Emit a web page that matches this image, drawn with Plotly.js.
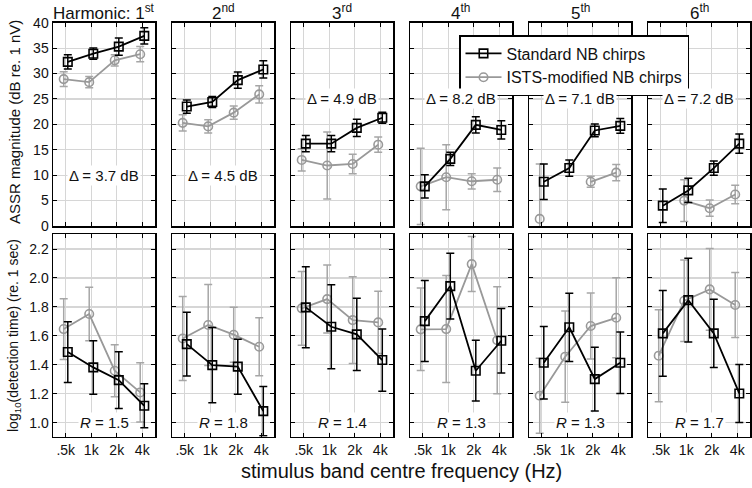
<!DOCTYPE html>
<html><head><meta charset="utf-8">
<script src="https://cdn.plot.ly/plotly-3.0.1.min.js"></script>
<style>html,body{margin:0;padding:0;background:#fff}#chart{width:752px;height:488px}</style>
</head><body><div id="chart"></div>
<script>
const cats = ['.5k','1k','2k','4k'];
const harmonicTitles = ['Harmonic: 1<sup>st</sup>','2<sup>nd</sup>','3<sup>rd</sup>','4<sup>th</sup>','5<sup>th</sup>','6<sup>th</sup>'];
const magStd = [[32.3,33.9,35.3,37.4],[23.5,24.4,28.7,30.8],[16.2,16.2,19.3,21.3],[7.8,13.2,19.9,18.9],[8.7,11.4,18.8,19.7],[4.0,7.0,11.4,16.2]];
const magStdErr = [[1.4,1.1,1.7,1.6],[1.3,1.1,1.6,1.7],[1.6,1.6,1.7,1.1],[2.3,1.3,1.6,1.8],[3.5,1.6,1.25,1.45],[3.3,2.4,1.4,1.9]];
const magIsts = [[28.9,28.3,32.6,33.8],[20.3,19.6,22.3,25.9],[13.0,11.9,12.2,16.0],[7.8,9.6,8.8,9.1],[1.4,null,8.7,10.5],[null,5.0,3.5,6.2]];
const magIstsErr = [[1.45,1.1,1.1,1.5],[1.6,1.3,1.3,1.7],[2.2,6.6,1.9,1.5],[7.5,6.4,1.5,2.3],[10.8,0,1.1,1.6],[0,4.1,1.6,1.8]];
const detStd = [[1.488,1.382,1.294,1.117],[1.543,1.398,1.387,1.080],[1.797,1.663,1.610,1.433],[1.702,1.944,1.359,1.566],[1.414,1.659,1.301,1.414],[1.617,1.847,1.617,1.202]];
const detStdErr = [[0.21,0.185,0.196,0.152],[0.22,0.26,0.19,0.17],[0.28,0.29,0.25,0.215],[0.28,0.227,0.21,0.223],[0.25,0.236,0.22,0.213],[0.297,0.29,0.236,0.2]];
const detIsts = [[1.647,1.751,1.359,1.209],[1.582,1.675,1.608,1.525],[1.79,1.854,1.709,1.693],[1.645,1.647,2.096,1.57],[1.186,1.456,1.668,1.725],[1.463,1.843,1.921,1.813]];
const detIstsErr = [[0.21,0.185,0.18,0.205],[0.29,0.28,0.19,0.2],[0.255,0.235,0.3,0.215],[0.285,0.37,0.19,0.37],[0.26,0.315,0.228,0.276],[0.318,0.282,0.282,0.225]];
const deltas = ['3.7','4.5','4.9','8.2','7.1','7.2'];
const deltaLevel = [10,10,25,25,25,25];
const ratios = ['1.5','1.8','1.4','1.3','1.3','1.7'];
const seriesNames = ['Standard NB chirps','ISTS-modified NB chirps'];

const W = 752, H = 488;
const FONT = 'Liberation Sans, Arial, Helvetica, sans-serif';
const BLACK = '#000000', GRAY = '#999999';
const panelLeft = [53,172,291,410,529,648], panelW = 102;
const topRow = [22.7, 226], botRow = [234, 436.7];
const idx = [0,1,2,3];

const traces = [];
const layout = {
  width: W, height: H, margin:{l:0,r:0,t:0,b:0},
  paper_bgcolor:'#fff', plot_bgcolor:'#fff',
  font:{family:FONT, color:'#111', size:14},
  showlegend:true,
  legend:{x:459/W, y:1-35/H, xanchor:'left', yanchor:'top', bgcolor:'#fff',
    bordercolor:'#000', borderwidth:1.5, font:{size:16, family:FONT, color:'#111'},
    tracegroupgap:0, itemwidth:36},
  annotations: []
};

function axisBase(){
  return {showline:true, linecolor:'#000', linewidth:1.5, mirror:'allticks',
    ticks:'inside', ticklen:4, tickwidth:1, tickcolor:'#000',
    showgrid:true, gridcolor:'#d6d6d6', gridwidth:1.2, zeroline:false,
    tickfont:{size:14, family:FONT, color:'#111'}, fixedrange:true};
}

function addPanel(n, col, row){
  const xa = 'xaxis'+(n===1?'':n), ya = 'yaxis'+(n===1?'':n);
  const xs = 'x'+(n===1?'':n), ys = 'y'+(n===1?'':n);
  const rowPx = row===0 ? topRow : botRow;
  layout[xa] = Object.assign(axisBase(), {
    domain:[panelLeft[col]/W, (panelLeft[col]+panelW)/W], anchor:ys,
    range:[-0.5,3.5], tickvals:idx, ticktext:cats, showticklabels: row===1
  });
  layout[ya] = Object.assign(axisBase(), {
    domain:[1-rowPx[1]/H, 1-rowPx[0]/H], anchor:xs,
    range: row===0 ? [0,40] : [0.903,2.304],
    tickvals: row===0 ? [0,5,10,15,20,25,30,35,40] : [1.0,1.2,1.4,1.6,1.8,2.0,2.2],
    ticktext: row===0 ? ['0','5','10','15','20','25','30','35','40'] : ['1.0','1.2','1.4','1.6','1.8','2.0','2.2'],
    showticklabels: col===0
  });
  const stdY = row===0 ? magStd[col] : detStd[col];
  const stdE = row===0 ? magStdErr[col] : detStdErr[col];
  const isY = row===0 ? magIsts[col] : detIsts[col];
  const isE = row===0 ? magIstsErr[col] : detIstsErr[col];
  traces.push({type:'scatter', mode:'lines+markers', xaxis:xs, yaxis:ys,
    x: idx.map(i=>i-0.08), y:isY, name:seriesNames[1], legendrank:2,
    showlegend: n===1, cliponaxis:true,
    line:{color:GRAY, width:1.8},
    marker:{symbol:'circle-open', size:8.5, color:GRAY, line:{width:1.6, color:GRAY}},
    error_y:{type:'data', array:isE, visible:true, color:'#a6a6a6', thickness:1.5, width:4}
  });
  traces.push({type:'scatter', mode:'lines+markers', xaxis:xs, yaxis:ys,
    x: idx.map(i=>i+0.08), y:stdY, name:seriesNames[0], legendrank:1,
    showlegend: n===1, cliponaxis:true,
    line:{color:BLACK, width:1.8},
    marker:{symbol:'square-open', size:8.5, color:BLACK, line:{width:1.6, color:BLACK}},
    error_y:{type:'data', array:stdE, visible:true, color:BLACK, thickness:1.5, width:4}
  });
  if(row===0){
    layout.annotations.push({xref:xs, yref:ys, x:1.5, y:deltaLevel[col],
      xanchor:'center', yanchor:'middle',
      text:'Δ = '+deltas[col]+' dB', showarrow:false, bgcolor:'#fff',
      font:{size:15, family:FONT, color:'#111'}, borderpad:1});
  } else {
    layout.annotations.push({xref:xs, yref:ys, x:1.5, y:1.0,
      xanchor:'center', yanchor:'middle',
      text:'<i>R</i> = '+ratios[col], showarrow:false, bgcolor:'#fff',
      font:{size:15, family:FONT, color:'#111'}, borderpad:1});
  }
}

for(let c=0;c<6;c++){ addPanel(c+1, c, 0); }
for(let c=0;c<6;c++){ addPanel(c+7, c, 1); }

// column titles
for(let c=0;c<6;c++){
  layout.annotations.push({xref:'paper', yref:'paper', x:(panelLeft[c]+panelW/2)/W, y:1-12/H,
    yanchor:'middle', xanchor:'center', text:harmonicTitles[c], showarrow:false,
    font:{size:17, family:FONT, color:'#111'}});
}
// axis titles
layout.annotations.push({xref:'paper', yref:'paper', x:14/W, y:1-122/H, textangle:-90,
  xanchor:'center', yanchor:'middle',
  text:'ASSR magnitude (dB re. 1 nV)', showarrow:false, font:{size:15, family:FONT, color:'#111'}});
layout.annotations.push({xref:'paper', yref:'paper', x:14/W, y:1-336/H, textangle:-90,
  xanchor:'center', yanchor:'middle',
  text:'log<sub>10</sub>(detection time) (re. 1 sec)', showarrow:false, font:{size:14, family:FONT, color:'#111'}});
layout.annotations.push({xref:'paper', yref:'paper', x:402/W, y:1-471/H, xanchor:'center', yanchor:'middle',
  text:'stimulus band centre frequency (Hz)', showarrow:false, font:{size:20, family:FONT, color:'#111'}});

Plotly.newPlot('chart', traces, layout, {staticPlot:true, displayModeBar:false});
</script></body></html>
